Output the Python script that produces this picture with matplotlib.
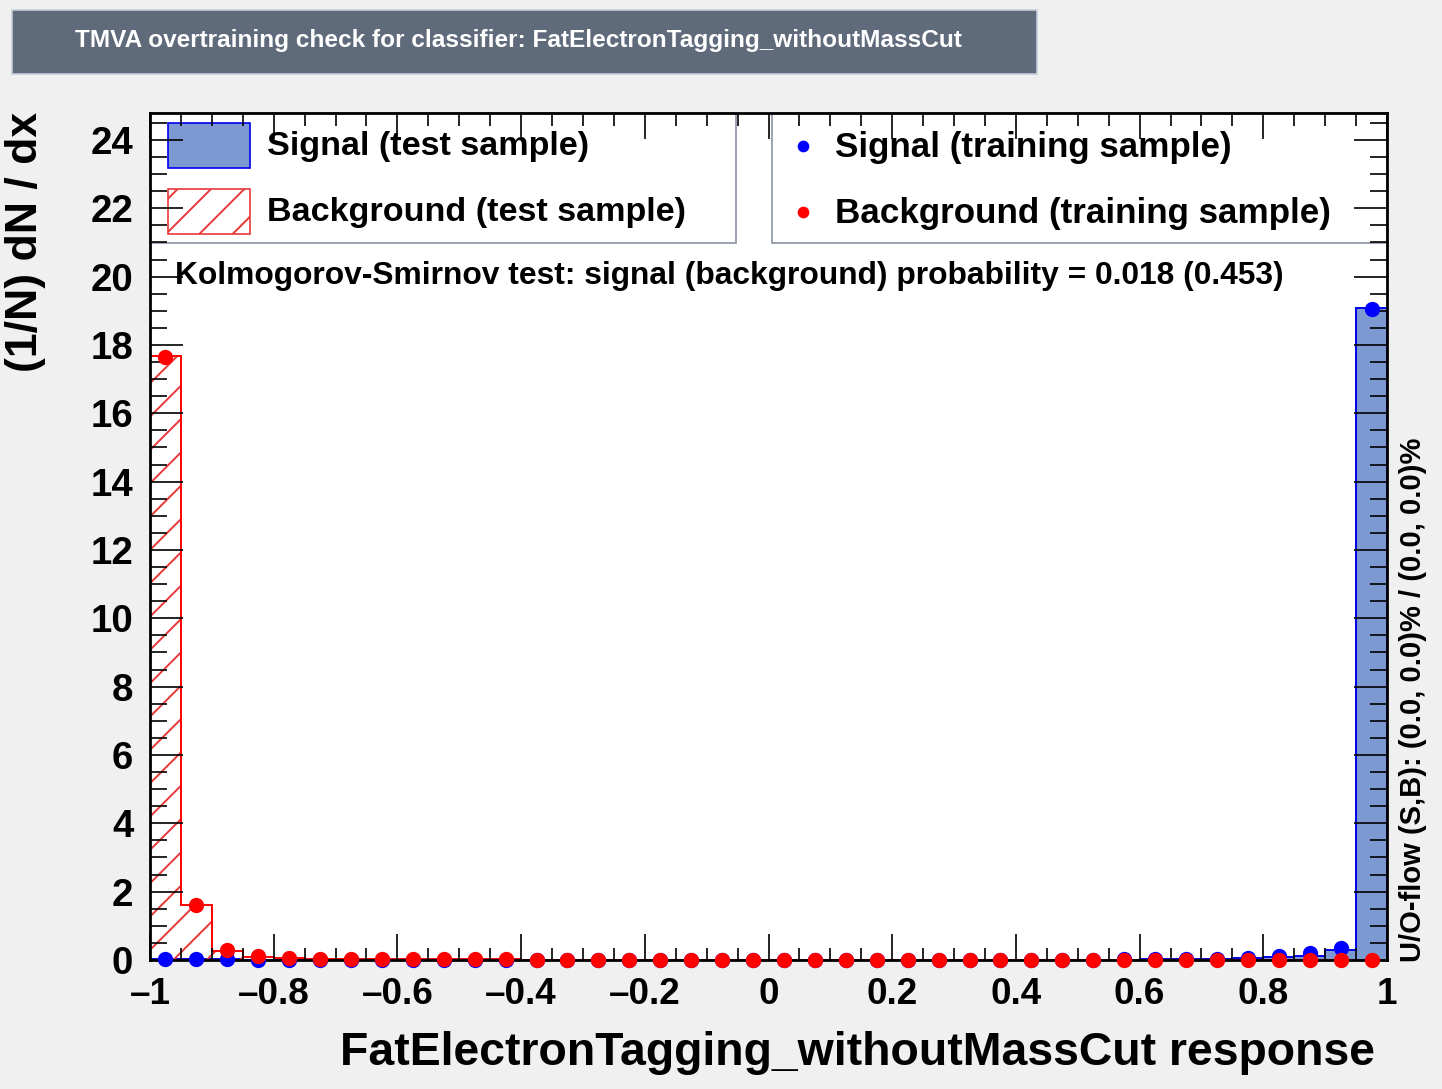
import matplotlib
matplotlib.use("Agg")
import matplotlib.pyplot as plt
import numpy as np
from matplotlib.patches import Rectangle
from matplotlib.ticker import MultipleLocator, FuncFormatter

# figure size in pixels (reference), drawn at 200 dpi
W, H = 1442, 1089
DPI = 200

plt.rcParams['font.family'] = ['Liberation Sans', 'DejaVu Sans']
plt.rcParams['font.weight'] = 'bold'
plt.rcParams['hatch.linewidth'] = 0.7

# 40 bins between -1 and 1
edges = np.linspace(-1, 1, 41)
centers = 0.5 * (edges[:-1] + edges[1:])

# histogram values
sig_test = [0.03, 0.03, 0.02, 0.01, 0.01, 0.01, 0.01, 0.01, 0.01, 0.01,
            0.01, 0.01, 0.01, 0.01, 0.01, 0.01, 0.01, 0.01, 0.01, 0.01,
            0.01, 0.01, 0.01, 0.01, 0.01, 0.01, 0.01, 0.01, 0.01, 0.01,
            0.01, 0.01, 0.02, 0.02, 0.03, 0.05, 0.08, 0.12, 0.29, 19.08]
bkg_test = [17.69, 1.60, 0.27, 0.10, 0.06, 0.04, 0.03, 0.03, 0.02, 0.02,
            0.02, 0.02, 0.01, 0.01, 0.01, 0.01, 0.01, 0.01, 0.01, 0.01,
            0.01, 0.01, 0.01, 0.01, 0.01, 0.01, 0.01, 0.01, 0.01, 0.01,
            0.01, 0.01, 0.01, 0.01, 0.01, 0.01, 0.01, 0.01, 0.01, 0.00]
sig_train = [0.03, 0.04, 0.02, 0.01, 0.01, 0.01, 0.01, 0.01, 0.01, 0.01,
             0.01, 0.01, 0.01, 0.01, 0.01, 0.01, 0.01, 0.01, 0.01, 0.01,
             0.01, 0.01, 0.01, 0.01, 0.01, 0.01, 0.01, 0.01, 0.01, 0.01,
             0.01, 0.02, 0.02, 0.03, 0.04, 0.07, 0.12, 0.20, 0.35, 19.05]
bkg_train = [17.65, 1.62, 0.30, 0.13, 0.06, 0.04, 0.03, 0.03, 0.02, 0.02,
             0.02, 0.02, 0.01, 0.01, 0.01, 0.01, 0.01, 0.01, 0.01, 0.01,
             0.01, 0.01, 0.01, 0.01, 0.01, 0.01, 0.01, 0.01, 0.01, 0.01,
             0.01, 0.01, 0.01, 0.01, 0.01, 0.01, 0.01, 0.01, 0.01, 0.00]

title = "TMVA overtraining check for classifier: FatElectronTagging_withoutMassCut"
xlabel = "FatElectronTagging_withoutMassCut response"
ylabel = "(1/N) dN / dx"
ks_text = "Kolmogorov-Smirnov test: signal (background) probability = 0.018 (0.453)"
flow_text = "U/O-flow (S,B): (0.0, 0.0)% / (0.0, 0.0)%"
leg_left = ["Signal (test sample)", "Background (test sample)"]
leg_right = ["Signal (training sample)", "Background (training sample)"]

SIG_FILL = '#7d99d1'
SIG_LINE = '#0000ee'
BKG_LINE = '#ff0000'
HATCH = '#e8383a'


def fx(px):
    return px / W


def fy(py):
    return 1 - py / H


fig = plt.figure(figsize=(W / DPI, H / DPI), dpi=DPI, facecolor='#f0f0f0')
ax = fig.add_axes([fx(150), fy(960), fx(1387) - fx(150), fy(113) - fy(960)])
ax.set_facecolor('white')
ax.set_axisbelow(False)   # ticks on top of the legend boxes, like ROOT

# test samples as histograms
ax.stairs(sig_test, edges, fill=True, facecolor=SIG_FILL, edgecolor=SIG_FILL, zorder=1)
ax.stairs(sig_test, edges, color=SIG_LINE, lw=0.7, zorder=1.1)
ax.stairs(bkg_test, edges, fill=True, facecolor='none', edgecolor=HATCH,
          hatch='//', lw=0, zorder=1.2)
ax.stairs(bkg_test, edges, color=BKG_LINE, lw=0.7, zorder=1.3)

# training samples as points
ax.plot(centers, sig_train, 'o', color='#0000ff', ms=4.5, zorder=3, clip_on=False)
ax.plot(centers, bkg_train, 'o', color='#ff0000', ms=4.5, zorder=3.1, clip_on=False)

ax.set_xlim(-1, 1)
ax.set_ylim(0, 24.79)
ax.xaxis.set_major_locator(MultipleLocator(0.2))
ax.xaxis.set_minor_locator(MultipleLocator(0.05))
ax.yaxis.set_major_locator(MultipleLocator(2))
ax.yaxis.set_minor_locator(MultipleLocator(0.5))
ax.xaxis.set_major_formatter(FuncFormatter(lambda v, p: ('%g' % round(v, 2)).replace('-', '\u2013')))
ax.tick_params(axis='both', which='both', direction='in', top=True, right=True,
               width=0.6, color='black')
ax.tick_params(axis='x', which='major', length=9.5, labelsize=13.3, pad=6)
ax.tick_params(axis='x', which='minor', length=4.5)
ax.tick_params(axis='y', which='major', length=12, labelsize=13.8, pad=6)
ax.tick_params(axis='y', which='minor', length=6)
for s in ax.spines.values():
    s.set_linewidth(1.0)

# legend boxes
ax.add_patch(Rectangle((fx(150), fy(243)), fx(736) - fx(150), fy(113) - fy(243),
                       transform=fig.transFigure, facecolor='white', edgecolor='#8a94a6',
                       lw=0.6, zorder=1.8, clip_on=False))
ax.add_patch(Rectangle((fx(772), fy(243)), fx(1387) - fx(772), fy(113) - fy(243),
                       transform=fig.transFigure, facecolor='white', edgecolor='#8a94a6',
                       lw=0.6, zorder=1.8, clip_on=False))
ax.add_patch(Rectangle((fx(168), fy(168)), fx(250) - fx(168), fy(123) - fy(168),
                       transform=fig.transFigure, facecolor=SIG_FILL, edgecolor=SIG_LINE,
                       lw=0.6, zorder=1.9, clip_on=False))
ax.add_patch(Rectangle((fx(168), fy(234)), fx(250) - fx(168), fy(189) - fy(234),
                       transform=fig.transFigure, facecolor='white', edgecolor=HATCH,
                       hatch='//', lw=0.6, zorder=1.9, clip_on=False))
ax.plot([fx(803)], [fy(146)], 'o', color='#0000ff', ms=3.2, transform=fig.transFigure,
        zorder=1.9, clip_on=False)
ax.plot([fx(803)], [fy(212)], 'o', color='#ff0000', ms=3.2, transform=fig.transFigure,
        zorder=1.9, clip_on=False)
fig.text(fx(267), fy(147), leg_left[0], fontsize=12.3, va='center', ha='left')
fig.text(fx(267), fy(213), leg_left[1], fontsize=12.3, va='center', ha='left')
fig.text(fx(835), fy(147), leg_right[0], fontsize=12.6, va='center', ha='left')
fig.text(fx(835), fy(213), leg_right[1], fontsize=12.6, va='center', ha='left')

fig.text(fx(175), fy(276), ks_text, fontsize=11.45, va='center', ha='left')

# title bar
fig.patches.append(Rectangle((fx(12), fy(74)), fx(1037) - fx(12), fy(10) - fy(74),
                             transform=fig.transFigure, facecolor='#5f6a7b',
                             edgecolor='#c5cedb', lw=0.6))
fig.text(fx(75), fy(41), title, color='white', fontsize=8.8, va='center', ha='left')

fig.text(fx(1375), fy(1053), xlabel, fontsize=16.7, va='center', ha='right')
fig.text(fx(26), fy(112), ylabel, fontsize=16, rotation=90, va='top', ha='center')
fig.text(fx(1413), fy(962), flow_text, fontsize=10.5, rotation=90, va='bottom', ha='center')

fig.savefig('out.png', dpi=DPI, facecolor=fig.get_facecolor())
